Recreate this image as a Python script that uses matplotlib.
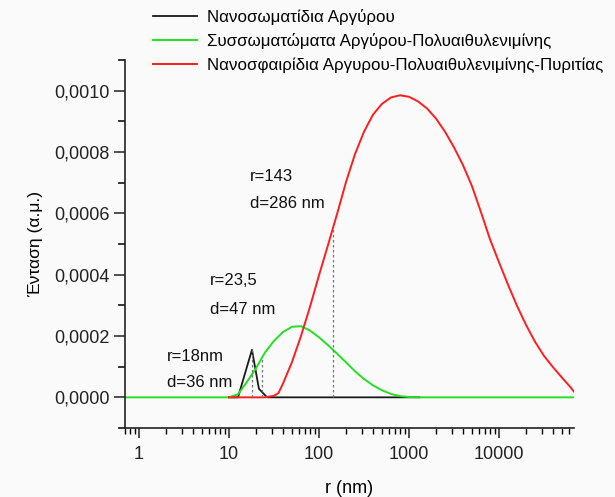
import numpy as np
import matplotlib
matplotlib.use('Agg')
import matplotlib.pyplot as plt
from matplotlib.ticker import FuncFormatter, MultipleLocator, LogLocator, NullFormatter

plt.rcParams['font.family'] = ['Liberation Sans', 'DejaVu Sans']

# κατανομές μεγέθους (r σε nm, ένταση σε α.μ.)
r_ag = [10, 12.6, 18, 21.5, 26.5, 1300]
i_ag = [0, 0, 0.000155, 0.000028, 0, 0]

r_pei = [0.7, 10, 12.6, 15.8, 20, 25.1, 31.6, 39.8, 50.1, 63.1, 79.4, 100,
         126, 158, 200, 251, 316, 398, 501, 631, 794, 1000, 1259, 68000]
i_pei = [0, 0, 0.00001, 0.00005, 0.000095, 0.000146, 0.000184, 0.000213,
         0.00023, 0.000232, 0.000218, 0.000196, 0.00017, 0.000143, 0.000114,
         0.000085, 0.00006, 0.000039, 0.000023, 0.000011, 0.000004, 0.000001,
         0, 0]

r_pyr = [10, 20, 25, 31.6, 35.5, 39.8, 50.1, 63.1, 79.4, 100, 126, 158, 200,
         251, 316, 398, 501, 631, 794, 1000, 1259, 1585, 1995, 2512, 3162,
         3981, 5012, 6310, 7943, 10000, 12589, 15849, 19953, 25119, 31623,
         39811, 50119, 63096, 67600]
i_pyr = [0, 0, 0, 0.000005, 0.000014, 0.000045, 0.000115, 0.0002, 0.000295,
         0.000398, 0.000497, 0.000596, 0.000703, 0.000793, 0.000866,
         0.000922, 0.000957, 0.000978, 0.000985, 0.00098, 0.000965, 0.000942,
         0.000909, 0.000866, 0.000815, 0.000757, 0.000688, 0.000603,
         0.000515, 0.00044, 0.000367, 0.000298, 0.000236, 0.000181, 0.000135,
         0.000098, 0.000064, 0.000031, 0.000019]

labels = ['Νανοσωματίδια Αργύρου',
          'Συσσωματώματα Αργύρου-Πολυαιθυλενιμίνης',
          'Νανοσφαιρίδια Αργυρου-Πολυαιθυλενιμίνης-Πυριτίας']

# ακτίνες κορυφών και κείμενα
r_peaks = [18, 23.5, 143]
notes = [('r=18nm', 'd=36 nm', 2.03, 0.000133, 0.000048),
         ('r=23,5', 'd=47 nm', 6.15, 0.00038, 0.000288),
         ('r=143', 'd=286 nm', 17.1, 0.00072, 0.000633)]

fig = plt.figure(figsize=(6.15, 4.97), dpi=100)
fig.patch.set_facecolor('#fafafa')
ax = fig.add_axes([125/615, 1 - 428/497, 449/615, 368/497])
ax.set_facecolor('#fafafa')

ax.plot(r_ag, i_ag, color='#1a1a1a', lw=1.3, label=labels[0])
ax.plot(r_pei, i_pei, color='#22e022', lw=1.4, label=labels[1])
ax.plot(r_pyr, i_pyr, color='#ff1e1e', lw=1.4, label=labels[2])

# διακεκομμένες γραμμές στις κορυφές
for rp, (rr, ii) in zip(r_peaks, [(r_ag, i_ag), (r_pei, i_pei), (r_pyr, i_pyr)]):
    top = np.interp(np.log10(rp), np.log10(rr), ii)
    ax.plot([rp, rp], [0, top], ls=(0, (2, 2)), color='#777777', lw=0.9)

for t1, t2, xt, y1, y2 in notes:
    ax.text(xt, y1, t1, fontsize=12, va='center', ha='left', color='#111111')
    ax.text(xt, y2, t2, fontsize=12, va='center', ha='left', color='#111111')

ax.set_xscale('log')
ax.set_xlim(0.70, 68000)
ax.set_ylim(-0.0001, 0.0011)

ax.set_xticks([1, 10, 100, 1000, 10000])
ax.set_xticklabels(['1', '10', '100', '1000', '10000'])
ax.xaxis.set_minor_locator(LogLocator(base=10, subs=np.arange(2, 10), numticks=20))
ax.xaxis.set_minor_formatter(NullFormatter())

ax.yaxis.set_major_locator(MultipleLocator(0.0002))
ax.yaxis.set_minor_locator(MultipleLocator(0.0001))
ax.yaxis.set_major_formatter(FuncFormatter(lambda v, p: ('%.4f' % (0 if abs(v) < 1e-9 else v)).replace('.', ',')))

for s in ['top', 'right']:
    ax.spines[s].set_visible(False)
for s in ['left', 'bottom']:
    ax.spines[s].set_linewidth(1.2)
    ax.spines[s].set_color('#222222')

ax.tick_params(axis='both', which='major', labelsize=13, colors='#222222', width=1.1)
ax.tick_params(axis='y', which='major', length=8, pad=3)
ax.tick_params(axis='y', which='minor', length=5, width=1.1)
ax.tick_params(axis='x', which='major', length=7, pad=6)
ax.tick_params(axis='x', which='minor', length=4, width=1.0)

ax.set_xlabel('r (nm)', fontsize=13, labelpad=12)
ax.set_ylabel('Ένταση (α.μ.)', fontsize=12.5, labelpad=8)

ax.legend(loc='upper left', bbox_to_anchor=(153/615, 1 - 9/497),
          bbox_transform=fig.transFigure, frameon=False, fontsize=12.2,
          handlelength=2.6, handletextpad=0.6, labelspacing=0.48,
          borderpad=0, borderaxespad=0)

fig.savefig('out.png', dpi=100, facecolor=fig.get_facecolor())
